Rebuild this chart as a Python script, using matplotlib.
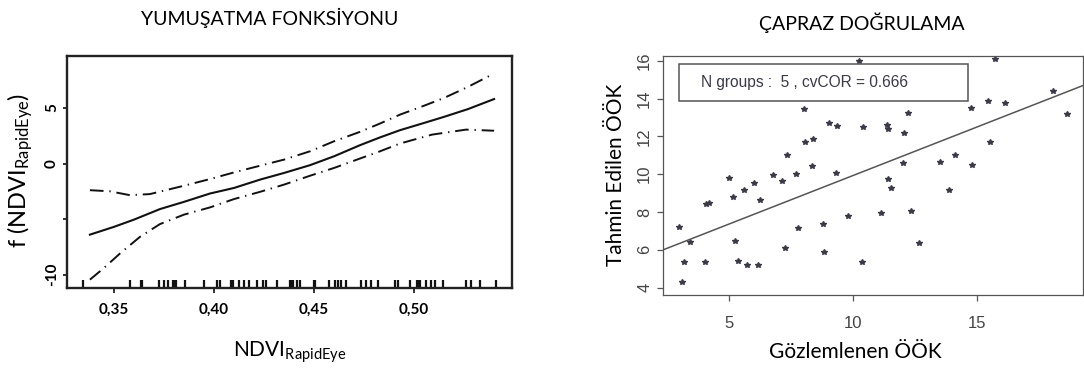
import numpy as np
import matplotlib
matplotlib.use("Agg")
import matplotlib.pyplot as plt
from matplotlib.patches import Rectangle

plt.rcParams['font.family'] = ['Lato', 'DejaVu Sans']
plt.rcParams['mathtext.fontset'] = 'custom'
plt.rcParams['mathtext.rm'] = 'Lato'
plt.rcParams['mathtext.it'] = 'Lato:italic'

# ---------------- data: smoothing function (left) ----------------
ndvi_x = [0.338, 0.35, 0.36, 0.373, 0.385, 0.398, 0.41, 0.423, 0.435,
          0.448, 0.46, 0.473, 0.483, 0.493, 0.505, 0.515, 0.527, 0.540]
fit = [-6.4, -5.7, -5.05, -4.1, -3.45, -2.7, -2.2, -1.45, -0.85,
       -0.15, 0.65, 1.65, 2.35, 3.0, 3.65, 4.2, 4.9, 5.8]

upper_x = [0.338, 0.348, 0.358, 0.368, 0.385, 0.398, 0.41, 0.423, 0.435,
           0.448, 0.46, 0.473, 0.483, 0.493, 0.505, 0.515, 0.527, 0.540]
upper = [-2.4, -2.5, -2.85, -2.75, -2.0, -1.4, -0.8, -0.2, 0.35,
         1.1, 2.0, 2.85, 3.6, 4.4, 5.2, 5.9, 6.9, 8.1]

lower_x = [0.338, 0.345, 0.353, 0.363, 0.373, 0.385, 0.398, 0.41, 0.423,
           0.435, 0.448, 0.46, 0.473, 0.483, 0.493, 0.509, 0.526, 0.540]
lower = [-10.45, -9.4, -8.1, -6.6, -5.45, -4.6, -3.95, -3.2, -2.55,
         -1.9, -1.1, -0.4, 0.45, 1.1, 1.8, 2.6, 3.05, 2.95]

rug = [0.3343, 0.3580, 0.3635, 0.3640, 0.3726, 0.3751, 0.3768, 0.3796, 0.3803,
       0.3810, 0.3855, 0.3950, 0.4016, 0.4029, 0.4083, 0.4088, 0.4093, 0.4124,
       0.4149, 0.4176, 0.4213, 0.4246, 0.4259, 0.4316, 0.4379, 0.4387, 0.4396,
       0.4416, 0.4429, 0.4502, 0.4506, 0.4576, 0.4604, 0.4621, 0.4637, 0.4662,
       0.4737, 0.4762, 0.4787, 0.4820, 0.4904, 0.4920, 0.4979, 0.5015, 0.5023,
       0.5032, 0.5062, 0.5087, 0.5103, 0.5145, 0.5262, 0.5287, 0.5332, 0.5408]

x_ticks = [0.35, 0.40, 0.45, 0.50]
x_labels = ['0,35', '0,40', '0,45', '0,50']
y_ticks = [-10, -5, 0, 5]
y_labels = ['-10', '', '0', '5']

# ---------------- data: cross validation (right) ----------------
observed = [2.98, 3.08, 3.17, 3.40, 4.01, 4.04, 4.16, 4.97, 5.14, 5.24, 5.35, 5.60,
            5.71, 5.99, 6.17, 6.24, 6.76, 7.11, 7.27, 7.32, 7.69, 7.76, 8.03, 8.07,
            8.38, 8.33, 8.79, 8.84, 9.04, 9.37, 9.30, 9.81, 10.24, 10.41, 10.37,
            11.14, 11.37, 11.43, 11.40, 11.53, 12.06, 12.03, 12.21, 12.34, 12.68,
            13.52, 13.88, 14.11, 14.79, 14.83, 15.47, 15.56, 15.73, 16.16, 18.07, 18.65]
predicted = [7.23, 4.30, 5.38, 6.41, 5.38, 8.43, 8.49, 9.81, 8.80, 6.46, 5.40, 9.16,
             5.21, 9.53, 5.21, 8.64, 9.96, 9.65, 6.11, 11.00, 9.99, 7.17, 13.47, 11.73,
             11.85, 10.43, 7.35, 5.90, 12.69, 12.56, 10.04, 7.79, 16.00, 12.51, 5.38,
             7.97, 12.63, 12.37, 9.76, 9.26, 12.17, 10.59, 13.25, 8.08, 6.34,
             10.65, 9.19, 11.00, 13.52, 10.49, 13.87, 11.73, 16.09, 13.75, 14.42, 13.18]
line_intercept = 4.81
line_slope = 0.512
cv_text = 'N groups :  5 , cvCOR = 0.666'

W, H = 1084, 373
fig = plt.figure(figsize=(W / 100, H / 100), dpi=100)


def box(l, t, r, b):
    return [l / W, 1 - b / H, (r - l) / W, (b - t) / H]


# ---------------- left panel ----------------
ax1 = fig.add_axes(box(66.7, 55.7, 511.7, 288))
dash = (0, (7, 3, 0.7, 3))
ax1.plot(ndvi_x, fit, color='#111', lw=1.5)
ax1.plot(upper_x, upper, color='#111', lw=1.4, linestyle=dash)
ax1.plot(lower_x, lower, color='#111', lw=1.4, linestyle=dash)
ax1.vlines(rug, 0, 0.035, color='#111', lw=1.6, transform=ax1.get_xaxis_transform())
ax1.set_xlim(0.3264, 0.5488)
ax1.set_ylim(-11.2, 9.7)
ax1.set_xticks(x_ticks)
ax1.set_xticklabels(x_labels, fontsize=11, fontweight='bold')
ax1.set_yticks(y_ticks)
ax1.set_yticklabels(y_labels, fontsize=11, fontweight='bold', rotation=90, va='center')
for s in ax1.spines.values():
    s.set_linewidth(1.7)
    s.set_color('#222')
ax1.tick_params(axis='x', length=3.5, width=1.3, color='#222', pad=7)
ax1.tick_params(axis='y', length=3, width=1.3, color='#222', pad=2.5)

fig.text(270 / W, 1 - 18 / H, 'YUMUŞATMA FONKSİYONU', ha='center', va='center', fontsize=14)
fig.text(290 / W, 1 - 352 / H, 'NDVI$_{\\mathrm{RapidEye}}$', ha='center', va='center', fontsize=15)
fig.text(20 / W, 1 - 170 / H, 'f (NDVI$_{\\mathrm{RapidEye}}$)', ha='center', va='center',
         fontsize=17, rotation=90)

# ---------------- right panel ----------------
ax2 = fig.add_axes(box(663.3, 55.7, 1082.7, 295))
ax2.plot(observed, predicted, '*', ms=4.2, color='#3a3a48', mec='#3a3a48')
ax2.axline((0, line_intercept), slope=line_slope, color='#555', lw=1.1)
ax2.set_xlim(2.33, 19.29)
ax2.set_ylim(3.61, 16.27)
ax2.set_xticks([5, 10, 15])
ax2.set_yticks([4, 6, 8, 10, 12, 14, 16])
for lab in ax2.get_xticklabels() + ax2.get_yticklabels():
    lab.set_family(['Liberation Sans', 'DejaVu Sans'])
    lab.set_fontsize(12)
    lab.set_color('#444')
for lab in ax2.get_yticklabels():
    lab.set_rotation(90)
    lab.set_va('center')
for s in ax2.spines.values():
    s.set_linewidth(0.9)
    s.set_color('#555')
ax2.tick_params(axis='x', length=4, width=0.9, color='#555', pad=11)
ax2.tick_params(axis='y', length=4, width=0.9, color='#555', pad=4)

# legend-like text box, placed in axes fraction
bx0, by0 = (679.3 - 663.3) / 419.4, (295 - 100.7) / 239.3
bw, bh = (968.3 - 679.3) / 419.4, (100.7 - 64) / 239.3
ax2.add_patch(Rectangle((bx0, by0), bw, bh, transform=ax2.transAxes, fc='white',
                        ec='#555', lw=1.1, zorder=3))
ax2.text(bx0 + (700.7 - 679.3) / 419.4, by0 + bh / 2, cv_text, transform=ax2.transAxes,
         va='center', ha='left', family=['Liberation Sans', 'DejaVu Sans'],
         fontsize=11.2, color='#3a3a48', zorder=4)

fig.text(862 / W, 1 - 23 / H, 'ÇAPRAZ DOĞRULAMA', ha='center', va='center', fontsize=14)
fig.text(855 / W, 1 - 352 / H, 'Gözlemlenen ÖÖK', ha='center', va='center', fontsize=15)
fig.text(616 / W, 1 - 175 / H, 'Tahmin Edilen ÖÖK', ha='center', va='center',
         fontsize=15, rotation=90)

fig.savefig('out.png', dpi=100, facecolor='white')
